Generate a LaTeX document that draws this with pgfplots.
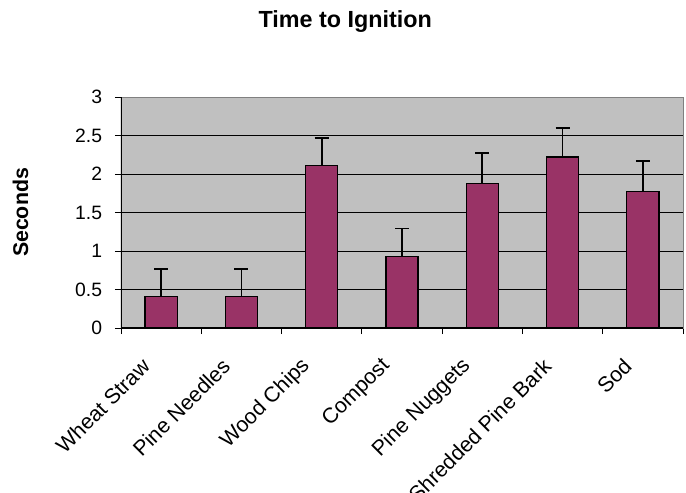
\documentclass[border=0pt]{standalone}
\usepackage{pgfplots}
\pgfplotsset{compat=1.18}
\usepackage{fontspec}
\setmainfont{Liberation Sans}
\definecolor{plotgray}{HTML}{C0C0C0}
\definecolor{barplum}{HTML}{993366}
\definecolor{framegray}{HTML}{808080}

\begin{document}
\begin{tikzpicture}
\begin{axis}[
    name=ax,
    scale only axis,
    width=421.5pt, height=173.25pt,
    xmin=-0.5, xmax=6.5,
    ymin=0, ymax=3,
    ybar,
    axis background/.style={fill=plotgray},
    axis line style={framegray},
    tick pos=left,
    tick align=outside,
    major tick length=4.5pt,
    tick style={black, line width=0.6pt},
    xtick={-0.5,0.5,...,6.5},
    xticklabels={{},{},{},{},{},{},{},{}},
    extra x ticks={0,...,6},
    extra x tick labels={Wheat Straw,Pine Needles,Wood Chips,Compost,Pine Nuggets,Shredded Pine Bark,Sod},
    extra x tick style={
        major tick length=0pt,
        tick label style={font=\fontsize{16}{19}\selectfont,
            xshift=-9pt, yshift=-23.5pt, rotate=45, anchor=east}
    },
    ytick={0.5,1,...,2.5},
    extra y ticks={0,3},
    extra y tick style={grid=none},
    ymajorgrids,
    grid style={black, line width=0.6pt},
    yticklabel style={font=\fontsize{14.5}{17}\selectfont, xshift=-6.2pt},
    /pgf/number format/assume math mode=true,
    title={Time to Ignition},
    title style={font=\fontsize{17.5}{21}\selectfont\bfseries,
        at={(axis description cs:0.399,1.29)}, anchor=center},
    ylabel={Seconds},
    ylabel style={font=\fontsize{16}{19}\selectfont\bfseries,
        at={(axis description cs:-0.179,0.5)}, anchor=center},
]
\addplot[ybar, bar width=0.4, fill=barplum, draw=black, line width=0.9pt,
    error bars/.cd, y dir=plus, y explicit,
    error bar style={black, line width=1.2pt},
    error mark options={black, rotate=90, mark size=5.25pt, line width=1.2pt}]
table[x=x, y=y, y error=e] {
x  y     e
0  0.41  0.36
1  0.41  0.36
2  2.11  0.36
3  0.93  0.36
4  1.88  0.39
5  2.22  0.38
6  1.77  0.40
};
\draw[black, line width=0.8pt] (rel axis cs:0,1) -- (rel axis cs:0,0) -- (rel axis cs:1,0);
\end{axis}
\pgfresetboundingbox
\path[use as bounding box] ([shift={(-90.75pt,-123.75pt)}]ax.south west) rectangle ([shift={(2.25pt,72.75pt)}]ax.north east);
\end{tikzpicture}
\end{document}
